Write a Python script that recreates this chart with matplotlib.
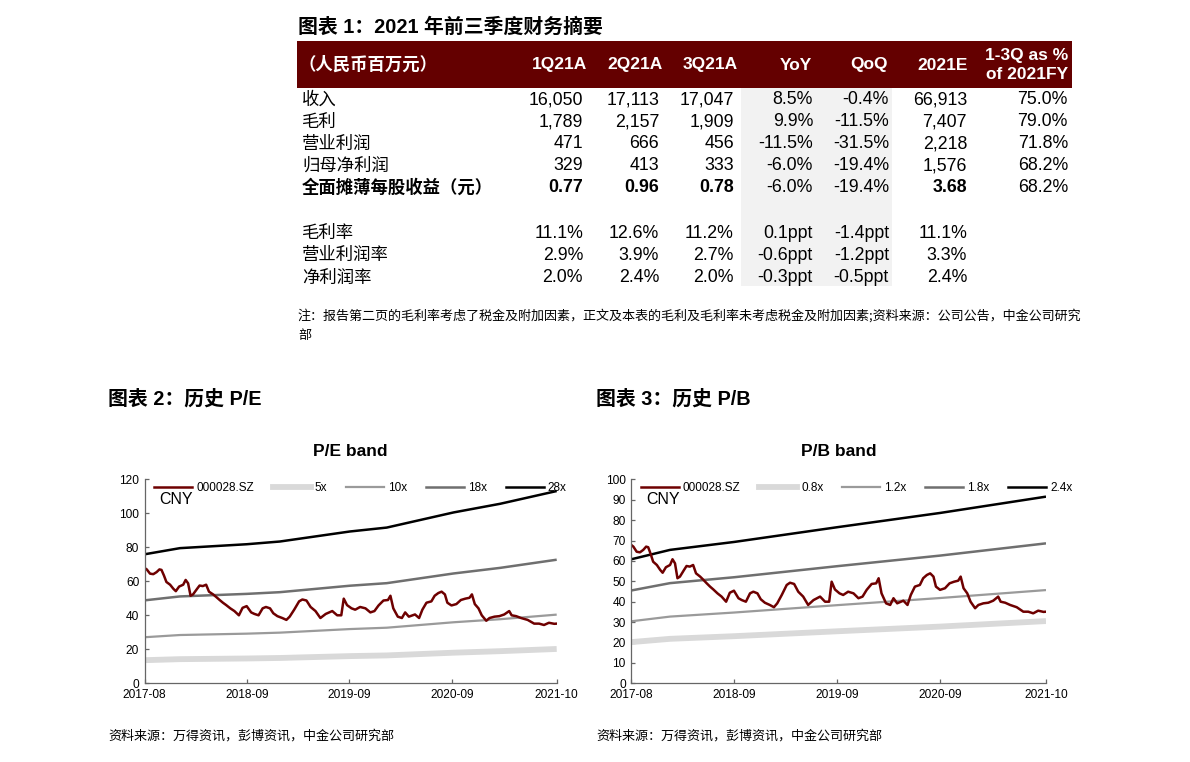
import matplotlib
matplotlib.use("Agg")
import matplotlib.pyplot as plt
from matplotlib.patches import Rectangle
from matplotlib.lines import Line2D
from matplotlib import font_manager as fm

W, H = 1190, 762
names = {f.name for f in fm.fontManager.ttflist}
NARROW = 'Liberation Sans Narrow' if 'Liberation Sans Narrow' in names else 'Liberation Sans'
CJK = 'Noto Sans CJK SC'
plt.rcParams['font.family'] = ['Liberation Sans', CJK]

# ---------------- Table data ----------------
table_title = "图表 1：2021 年前三季度财务摘要"
unit_label = "（人民币百万元）"
col_headers = ["1Q21A", "2Q21A", "3Q21A", "YoY", "QoQ", "2021E", "1-3Q as %\nof 2021FY"]
row_labels = ["收入", "毛利", "营业利润", "归母净利润", "全面摊薄每股收益（元）",
              "毛利率", "营业利润率", "净利润率"]
q1_21 = ["16,050", "1,789", "471", "329", "0.77", "11.1%", "2.9%", "2.0%"]
q2_21 = ["17,113", "2,157", "666", "413", "0.96", "12.6%", "3.9%", "2.4%"]
q3_21 = ["17,047", "1,909", "456", "333", "0.78", "11.2%", "2.7%", "2.0%"]
yoy = ["8.5%", "9.9%", "-11.5%", "-6.0%", "-6.0%", "0.1ppt", "-0.6ppt", "-0.3ppt"]
qoq = ["-0.4%", "-11.5%", "-31.5%", "-19.4%", "-19.4%", "-1.4ppt", "-1.2ppt", "-0.5ppt"]
fy21e = ["66,913", "7,407", "2,218", "1,576", "3.68", "11.1%", "3.3%", "2.4%"]
share_fy = ["75.0%", "79.0%", "71.8%", "68.2%", "68.2%", "", "", ""]
bold_rows = [4]
table_note = ("注：报告第二页的毛利率考虑了税金及附加因素，正文及本表的毛利及毛利率未考虑税金及附加因素;"
              "资料来源：公司公告，中金公司研究")
table_note2 = "部"

# ---------------- Chart data ----------------
x_ticks = [0, 250, 500, 750, 1006]
x_labels = ["2017-08", "2018-09", "2019-09", "2020-09", "2021-10"]

price_idx = [0, 5, 13, 21, 29, 36, 41, 47, 53, 62, 70, 76, 84, 94, 100, 106, 112, 118,
             128, 134, 142, 150, 157, 167, 175, 183, 191, 199, 209, 219, 230, 239, 249,
             260, 268, 278, 288, 296, 306, 314, 324, 336, 346, 354, 365, 377, 385, 395,
             405, 417, 429, 442, 458, 470, 480, 486, 494, 505, 514, 526, 539, 551, 561,
             571, 583, 594, 600, 607, 618, 628, 636, 645, 660, 670, 678, 688, 700, 708,
             717, 725, 733, 739, 749, 761, 772, 783, 793, 799, 806, 815, 823, 834, 842,
             854, 866, 878, 890, 896, 907, 919, 935, 951, 963, 975, 987, 1000, 1006]
price = [67.8, 67.0, 64.5, 64.2, 65.4, 67.0, 66.7, 63.4, 59.6, 58.0, 55.6, 54.2, 56.9,
         58.0, 60.8, 58.8, 51.5, 52.3, 55.6, 57.5, 57.2, 58.0, 53.9, 52.3, 50.7, 49.0,
         47.4, 46.0, 44.1, 42.5, 40.0, 44.4, 45.4, 41.7, 40.8, 40.0, 44.1, 44.9, 44.1,
         41.2, 39.5, 38.4, 37.3, 39.2, 43.3, 48.2, 49.3, 48.7, 44.9, 42.5, 38.4, 40.8,
         42.5, 40.0, 40.0, 49.8, 46.0, 44.1, 43.3, 44.9, 44.1, 41.7, 42.5, 45.8, 48.7,
         49.0, 51.5, 44.1, 39.2, 38.4, 41.7, 39.2, 40.5, 38.4, 43.3, 47.4, 48.2, 51.5,
         53.1, 53.9, 52.3, 47.4, 45.8, 46.6, 49.0, 49.8, 50.3, 52.3, 46.6, 44.1, 40.0,
         36.8, 38.4, 39.2, 39.5, 40.5, 42.5, 40.0, 39.5, 38.4, 37.3, 35.1, 35.1, 34.3,
         35.6, 35.0, 35.1]

pe_idx = [0, 86, 249, 330, 501, 591, 754, 868, 1006]
pe_5x = [13.6, 14.2, 14.6, 14.9, 16.0, 16.4, 18.0, 18.9, 20.2]
pe_10x = [27.1, 28.4, 29.2, 29.8, 31.9, 32.7, 35.9, 37.7, 40.4]
pe_18x = [48.8, 51.1, 52.6, 53.6, 57.4, 58.9, 64.6, 67.9, 72.7]
pe_28x = [75.9, 79.5, 81.8, 83.4, 89.3, 91.6, 100.5, 105.6, 113.1]

pb_idx = [0, 94, 250, 499, 749, 1006]
pb_08x = [20.2, 21.8, 23.1, 25.5, 27.8, 30.5]
pb_12x = [30.4, 32.7, 34.7, 38.3, 41.8, 45.7]
pb_18x = [45.5, 49.1, 52.0, 57.4, 62.6, 68.6]
pb_24x = [60.8, 65.4, 69.3, 76.5, 83.5, 91.5]

ticker = "000028.SZ"
pe_labels = ["5x", "10x", "18x", "28x"]
pb_labels = ["0.8x", "1.2x", "1.8x", "2.4x"]
source = "资料来源：万得资讯，彭博资讯，中金公司研究部"

# ---------------- Figure ----------------
fig = plt.figure(figsize=(W / 100, H / 100), dpi=100)
fig.patch.set_facecolor("white")


def fx(x):
    return x / W


def fy(y):
    return 1 - y / H


def ftext(x, y, s, **kw):
    fig.text(fx(x), fy(y), s, **kw)


DARK_RED = "#640000"
# title
ftext(298, 27, table_title, fontsize=14.3, fontweight="bold", va="center", ha="left",
      family=['Liberation Sans', CJK])
# header bar
fig.patches.append(Rectangle((fx(297), fy(88)), fx(1072) - fx(297), fy(41) - fy(88),
                             transform=fig.transFigure, facecolor=DARK_RED, edgecolor="none"))
# gray shading
fig.patches.append(Rectangle((fx(741), fy(286)), fx(892) - fx(741), fy(88) - fy(286),
                             transform=fig.transFigure, facecolor="#f2f2f2", edgecolor="none"))

ftext(299, 65, unit_label, fontsize=12.5, fontweight="bold", color="white", va="center",
      family=[CJK])
col_right = [587, 663, 738, 812, 888, 968, 1068]
for xr, h in zip(col_right, col_headers):
    ftext(xr, 65, h, fontsize=12.5, fontweight="bold", color="white", va="center", ha="right",
          family=[NARROW, CJK], linespacing=1.3)

row_y = [100, 122, 144, 166, 188, 233, 255, 278]
val_right = [583, 659, 734, 813, 889, 967, 1068]
cols = [q1_21, q2_21, q3_21, yoy, qoq, fy21e, share_fy]
for i, (lab, yy) in enumerate(zip(row_labels, row_y)):
    bold = i in bold_rows
    ftext(302, yy, lab, fontsize=12.5, fontweight="bold" if bold else "normal",
          va="center", ha="left", family=[CJK])
    for j, (col, xr) in enumerate(zip(cols, val_right)):
        b = bold and j in (0, 1, 2, 5)
        ftext(xr, yy, col[i], fontsize=12.8, fontweight="bold" if b else "normal",
              va="center", ha="right", family=[NARROW, CJK])

ftext(298, 316, table_note, fontsize=9.4, va="center", ha="left", family=[CJK])
ftext(298, 336, table_note2, fontsize=9.4, va="center", ha="left", family=[CJK])

# ---------------- Charts ----------------
C_5 = "#d9d9d9"
C_10 = "#9a9a9a"
C_18 = "#6f6f6f"
C_28 = "#000000"
C_P = "#6e0000"
AXC = "#666666"


def make_chart(left_px, right_px, title, ytop, ystep, idx_b, bands, labels, header, hx):
    top_px, bot_px = 479.3, 683.3
    ax = fig.add_axes([fx(left_px), fy(bot_px), fx(right_px) - fx(left_px),
                       fy(top_px) - fy(bot_px)])
    widths = [4.2, 1.6, 1.8, 1.8]
    colors = [C_5, C_10, C_18, C_28]
    handles = [Line2D([], [], color=C_P, lw=1.8)]
    for band, c, w in zip(bands, colors, widths):
        ax.plot(idx_b, band, color=c, lw=w, solid_capstyle="butt")
        handles.append(Line2D([], [], color=c, lw=w))
    ax.plot(price_idx, price, color=C_P, lw=1.8)
    ax.set_xlim(0, 1006)
    ax.set_ylim(0, ytop)
    ax.set_yticks(list(range(0, ytop + 1, ystep)))
    ax.set_xticks(x_ticks)
    ax.set_xticklabels(x_labels)
    for s in ("top", "right"):
        ax.spines[s].set_visible(False)
    for s in ("left", "bottom"):
        ax.spines[s].set_linewidth(0.9)
        ax.spines[s].set_color(AXC)
    ax.tick_params(axis="both", labelsize=8.6, length=3, width=0.9, pad=4,
                   color=AXC, direction="in")
    ax.tick_params(axis="x", pad=4)
    ax.set_title(title, fontsize=12.5, fontweight="bold", pad=17)
    ax.legend(handles, [ticker] + labels, ncol=5, loc="upper left",
              bbox_to_anchor=(9.5 / (right_px - left_px), 1 - 3 / 204),
              frameon=False, borderpad=0, borderaxespad=0, handlelength=3.2,
              handletextpad=0.35, columnspacing=1.6, fontsize=8.5)
    ax.text(15 / (right_px - left_px), 0.903, "CNY", transform=ax.transAxes,
            fontsize=11.5, va="center", ha="left")
    ftext(hx, 399, header, fontsize=14.3, fontweight="bold", va="center", ha="left",
          family=['Liberation Sans', CJK])
    ftext(hx, 736, source, fontsize=9.4, va="center", ha="left", family=[CJK])
    return ax


make_chart(144.7, 556.7, "P/E band", 120, 20, pe_idx, [pe_5x, pe_10x, pe_18x, pe_28x],
           pe_labels, "图表 2：历史 P/E", 108)
make_chart(631.3, 1046, "P/B band", 100, 10, pb_idx, [pb_08x, pb_12x, pb_18x, pb_24x],
           pb_labels, "图表 3：历史 P/B", 596)

fig.savefig("out.png", dpi=100)
